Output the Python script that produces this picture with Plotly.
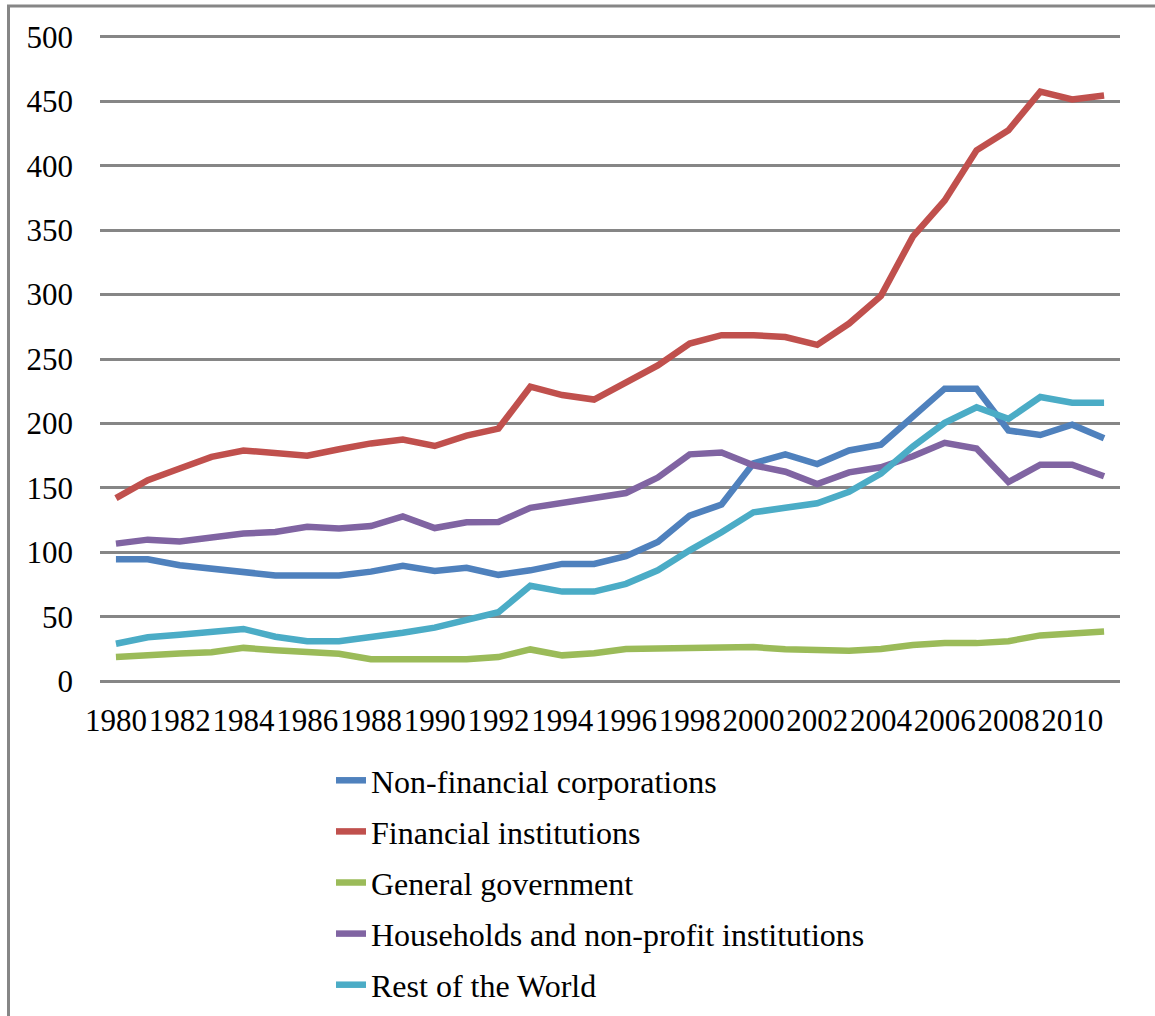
import plotly.graph_objects as go

years = list(range(1980, 2012))
tick_years = list(range(1980, 2011, 2))
y_ticks = [0, 50, 100, 150, 200, 250, 300, 350, 400, 450, 500]

non_financial = [94.5, 94.5, 90, 87, 84.5, 82, 82, 82, 85, 89.5, 85.5, 88, 82.5, 86, 91, 91,
                 97, 108, 128.5, 137, 169, 176, 168.5, 179, 183.5, 206, 227, 227, 194.5, 191, 199, 188.5]
financial = [142, 156, 165, 174, 179, 177.5, 175, 180, 184.5, 187.5, 182.5, 190.5, 196, 228.5, 222, 218.5,
             232, 245, 262, 268.5, 268.5, 267, 261, 277.5, 299, 345, 373, 412, 427.5, 457.5, 451.5, 454.5]
government = [18.7, 20.5, 21.5, 22.5, 25.8, 24, 22.5, 21.3, 17, 17, 17, 17, 18.7, 24.6, 20, 21.7,
              25, 25.2, 26.4, 26.4, 26.4, 24.8, 24.6, 23.5, 25, 28, 29.5, 29.5, 31, 35.5, 37, 38.5]
households = [106.7, 109.8, 108.3, 111.5, 114.5, 115.7, 119.8, 118.5, 120.4, 127.9, 118.8, 123.3, 123.5, 134.5, 138, 141.5,
              146, 158, 176, 177.5, 167.5, 162.5, 153, 162, 166, 174.5, 185, 180.5, 154.5, 168, 168, 159]
rest_world = [29, 34, 36, 38.8, 40.5, 34.5, 31, 31, 34, 37.5, 41.5, 47, 53.5, 74, 69.5, 69.5,
              75.5, 86, 101.5, 115.5, 131, 134.5, 138, 147, 161, 182, 200.5, 212.5, 203.5, 220.5, 216, 216]

series = [
    ("Non-financial corporations", non_financial, "#4F81BD"),
    ("Financial institutions", financial, "#C0504D"),
    ("General government", government, "#9BBB59"),
    ("Households and non-profit institutions", households, "#8064A2"),
    ("Rest of the World", rest_world, "#4BACC6"),
]

FONT = "Liberation Serif, Times New Roman, serif"

fig = go.Figure()
for name, vals, color in series:
    fig.add_trace(go.Scatter(
        x=years, y=vals, name=name, mode="lines", legendgroup=name,
        line=dict(color=color, width=6.5),
        hoverinfo="skip",
    ))

W, H = 1155, 1016
ML, MR, MT, MB = 100, 35, 33, 331
PW, PH = W - ML - MR, H - MT - MB


def px_x(p):
    return (p - ML) / PW


def px_y(p):
    return (H - MB - p) / PH


fig.update_layout(
    width=W, height=H,
    margin=dict(l=ML, r=MR, t=MT, b=MB, pad=0, autoexpand=False),
    paper_bgcolor="white", plot_bgcolor="white",
    font=dict(family=FONT, size=31, color="black"),
    showlegend=True,
    legend=dict(
        orientation="v", x=px_x(331), y=px_y(1012), xanchor="left", yanchor="bottom",
        font=dict(family=FONT, size=32, color="black"),
        traceorder="grouped", tracegroupgap=6.5,
        bgcolor="rgba(0,0,0,0)", itemwidth=30,
    ),
    xaxis=dict(
        range=[1979.5, 2011.5], tickmode="array", tickvals=tick_years,
        ticktext=[str(y) for y in tick_years], tickangle=0,
        showgrid=False, zeroline=False, showline=False, ticks="",
        tickfont=dict(family=FONT, size=31, color="black"),
        ticklabelstandoff=14,
    ),
    yaxis=dict(
        range=[-3, 503], tickmode="array", tickvals=y_ticks,
        showgrid=True, gridcolor="#868686", gridwidth=3,
        zeroline=False, showline=False, ticks="",
        tickfont=dict(family=FONT, size=31, color="black"),
        ticklabelstandoff=26,
    ),
    shapes=[dict(
        type="rect", xref="paper", yref="paper",
        x0=px_x(8.5), x1=px_x(1175), y0=px_y(1035), y1=px_y(6),
        line=dict(color="#868686", width=3), fillcolor="rgba(0,0,0,0)", layer="below",
    )],
)

fig.write_html("out.html", config={"displayModeBar": False},
               post_script="document.body.style.margin='0';")
